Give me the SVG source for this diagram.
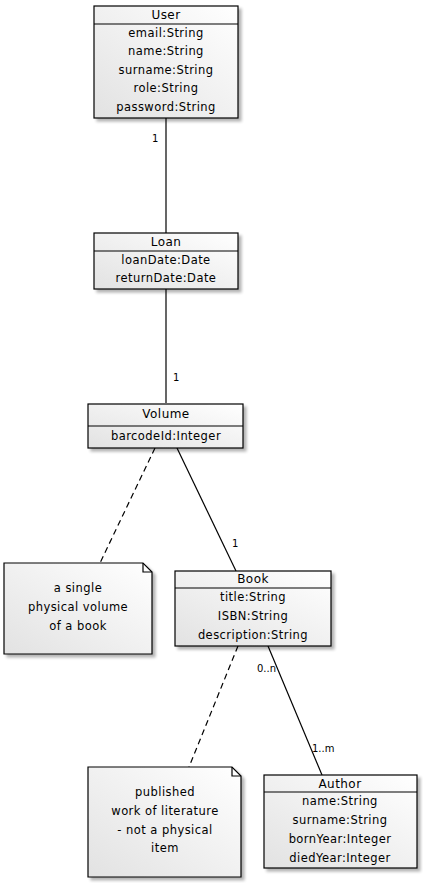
<svg xmlns="http://www.w3.org/2000/svg" width="423" height="883" viewBox="0 0 423 883">
<defs>
<linearGradient id="g" x1="1" y1="0" x2="0" y2="1">
<stop offset="0" stop-color="#ffffff"/>
<stop offset="1" stop-color="#e2e2e2"/>
</linearGradient>
<filter id="sh" x="-10%" y="-10%" width="130%" height="130%">
<feGaussianBlur in="SourceAlpha" stdDeviation="1.5"/>
<feOffset dx="3" dy="3" result="b"/>
<feComponentTransfer><feFuncA type="linear" slope="0.3"/></feComponentTransfer>
<feMerge><feMergeNode/><feMergeNode in="SourceGraphic"/></feMerge>
</filter>
</defs>
<style>
.box{fill:url(#g);stroke:#000;stroke-width:1.2;filter:url(#sh)}
.sep{stroke:#000;stroke-width:1.2}
text{font-family:"DejaVu Sans",Verdana,sans-serif;font-size:11.5px;fill:#000;text-anchor:middle;letter-spacing:0.45px}
.t{font-size:12px}
.lbl{font-size:10px;text-anchor:start;letter-spacing:0}
.c{stroke:#000;stroke-width:1.2;fill:none}
.d{stroke:#000;stroke-width:1.2;fill:none;stroke-dasharray:6,4}
</style>
<g id="connectors">
<line class="c" x1="166" y1="118" x2="166" y2="233"/>
<line class="c" x1="166" y1="289" x2="166" y2="403"/>
<line class="c" x1="177" y1="448" x2="236" y2="571"/>
<line class="d" x1="155" y1="448" x2="100" y2="563"/>
<line class="d" x1="238" y1="646" x2="189" y2="767"/>
<line class="c" x1="268" y1="646" x2="322" y2="775"/>
<text class="lbl" x="152" y="142">1</text>
<text class="lbl" x="173" y="381">1</text>
<text class="lbl" x="232" y="547">1</text>
<text class="lbl" x="257" y="672">0..n</text>
<text class="lbl" x="312" y="752">1..m</text>
</g>
<g id="User">
<rect class="box" x="94" y="6" width="144" height="112"/>
<line class="sep" x1="94" y1="24" x2="238" y2="24"/>
<text class="t" x="166" y="19">User</text>
<text x="166" y="37">email:String</text>
<text x="166" y="55">name:String</text>
<text x="166" y="74">surname:String</text>
<text x="166" y="92">role:String</text>
<text x="166" y="111">password:String</text>
</g>
<g id="Loan">
<rect class="box" x="94" y="233" width="144" height="56"/>
<line class="sep" x1="94" y1="251" x2="238" y2="251"/>
<text class="t" x="166" y="246">Loan</text>
<text x="166" y="264">loanDate:Date</text>
<text x="166" y="282">returnDate:Date</text>
</g>
<g id="Volume">
<rect class="box" x="88" y="404" width="155" height="44"/>
<line class="sep" x1="88" y1="426" x2="243" y2="426"/>
<text class="t" x="166" y="418">Volume</text>
<text x="166" y="440">barcodeId:Integer</text>
</g>
<g id="note1">
<path class="box" d="M4,563 H143 L152,572 V654 H4 Z"/>
<path class="c" d="M143,563 V572 H152"/>
<text x="78" y="592">a single</text>
<text x="78" y="611">physical volume</text>
<text x="78" y="630">of a book</text>
</g>
<g id="Book">
<rect class="box" x="175" y="571" width="156" height="75"/>
<line class="sep" x1="175" y1="588" x2="331" y2="588"/>
<text class="t" x="253" y="583">Book</text>
<text x="253" y="601">title:String</text>
<text x="253" y="620">ISBN:String</text>
<text x="253" y="639">description:String</text>
</g>
<g id="note2">
<path class="box" d="M88,767 H232 L241,776 V877 H88 Z"/>
<path class="c" d="M232,767 V776 H241"/>
<text x="165" y="796">published</text>
<text x="165" y="815">work of literature</text>
<text x="165" y="834">- not a physical</text>
<text x="165" y="852">item</text>
</g>
<g id="Author">
<rect class="box" x="264" y="775" width="153" height="93"/>
<line class="sep" x1="264" y1="792" x2="417" y2="792"/>
<text class="t" x="340" y="788">Author</text>
<text x="340" y="805">name:String</text>
<text x="340" y="824">surname:String</text>
<text x="340" y="843">bornYear:Integer</text>
<text x="340" y="862">diedYear:Integer</text>
</g>
</svg>
